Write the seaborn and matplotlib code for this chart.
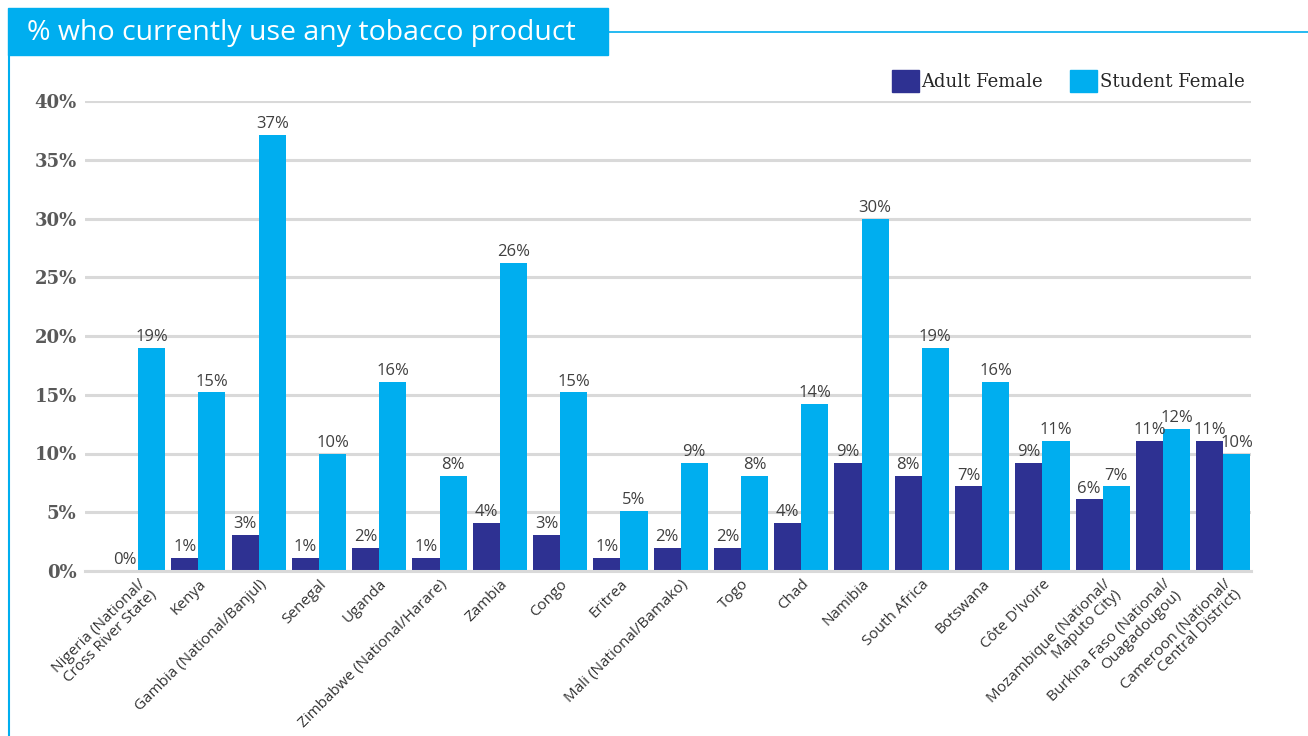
import matplotlib.pyplot as plt
import seaborn as sns
import pandas as pd
from matplotlib.patches import Rectangle
from matplotlib.lines import Line2D
from matplotlib.ticker import FuncFormatter

sns.set_theme(style="white")
plt.rcParams['font.family'] = ['Open Sans', 'DejaVu Sans']

# Data
countries = ['Nigeria (National/\nCross River State)', 'Kenya', 'Gambia (National/Banjul)',
             'Senegal', 'Uganda', 'Zimbabwe (National/Harare)', 'Zambia', 'Congo', 'Eritrea',
             'Mali (National/Bamako)', 'Togo', 'Chad', 'Namibia', 'South Africa', 'Botswana',
             "Côte D'Ivoire", 'Mozambique (National/\nMaputo City)',
             'Burkina Faso (National/\nOuagadougou)', 'Cameroon (National/\nCentral District)']
adult_female = [0.0, 1.1, 3.1, 1.1, 2.0, 1.1, 4.1, 3.1, 1.1, 2.0, 2.0, 4.1, 9.2, 8.1, 7.2,
                9.2, 6.1, 11.1, 11.1]
student_female = [19.0, 15.2, 37.1, 10.0, 16.1, 8.1, 26.2, 15.2, 5.1, 9.2, 8.1, 14.2, 30.0,
                  19.0, 16.1, 11.1, 7.2, 12.1, 10.0]
groups = ['Adult Female', 'Student Female']
colors = ['#2E3192', '#00AEEF']

df = pd.DataFrame({
    'country': countries * 2,
    'value': adult_female + student_female,
    'group': [groups[0]] * len(countries) + [groups[1]] * len(countries),
})

fig = plt.figure(figsize=(13.08, 7.36), dpi=100)
W, H = 1308, 736
ax = fig.add_axes([85 / W, 1 - 571 / H, (1251 - 85) / W, (571 - 101) / H])

sns.barplot(data=df, x='country', y='value', hue='group', palette=colors,
            saturation=1, width=0.9, ax=ax, legend=False, linewidth=0, edgecolor='none')

# value labels
for cont in ax.containers:
    ax.bar_label(cont, fmt='{:.0f}%', padding=2, fontsize=12, color='#404040')

ax.set_xlim(-0.88, 18.46)
ax.set_ylim(0, 40)
ax.set_yticks(range(0, 41, 5))
ax.yaxis.set_major_formatter(FuncFormatter(lambda v, p: f'{v:.0f}%'))
for lab in ax.get_yticklabels():
    lab.set_fontfamily(['DejaVu Serif'])
    lab.set_fontweight('bold')
    lab.set_fontsize(13)
    lab.set_color('#595959')
ax.tick_params(axis='y', length=0, pad=6)
ax.tick_params(axis='x', length=0, pad=4)
ax.set_xticks(range(len(countries)))
ax.set_xticklabels(countries, rotation=45, ha='right', rotation_mode='anchor',
                   fontsize=11, color='#333333', linespacing=1.0)
ax.set_xlabel('')
ax.set_ylabel('')

ax.grid(axis='y', color='#D9D9D9', linewidth=2.2)
ax.set_axisbelow(True)
for s in ['top', 'right', 'left']:
    ax.spines[s].set_visible(False)
ax.spines['bottom'].set_color('#D9D9D9')
ax.spines['bottom'].set_linewidth(2.2)

# legend
handles = [Rectangle((0, 0), 1, 1, color=c) for c in colors]
leg = fig.legend(handles, groups, loc='center right', bbox_to_anchor=(1252 / W, 1 - 81 / H),
                 ncol=2, frameon=False, handlelength=1.5, handleheight=1.5,
                 handletextpad=0.15, columnspacing=1.5, borderaxespad=0,
                 prop={'family': 'DejaVu Serif', 'size': 13})

# title box and frame lines
fig.patches.append(Rectangle((8 / W, 1 - 55 / H), 600 / W, 47 / H, transform=fig.transFigure,
                             color='#00AEEF', zorder=1))
fig.text(27 / W, 1 - 33 / H, '% who currently use any tobacco product', color='white',
         fontsize=20.5, va='center', ha='left', family=['Open Sans', 'DejaVu Sans'])
fig.add_artist(Line2D([608 / W, 1], [1 - 32 / H, 1 - 32 / H], color='#00AEEF', lw=1.2,
                      transform=fig.transFigure))
fig.add_artist(Line2D([9 / W, 9 / W], [0, 1 - 55 / H], color='#00AEEF', lw=1.5,
                      transform=fig.transFigure))

fig.savefig('out.png', dpi=100)
